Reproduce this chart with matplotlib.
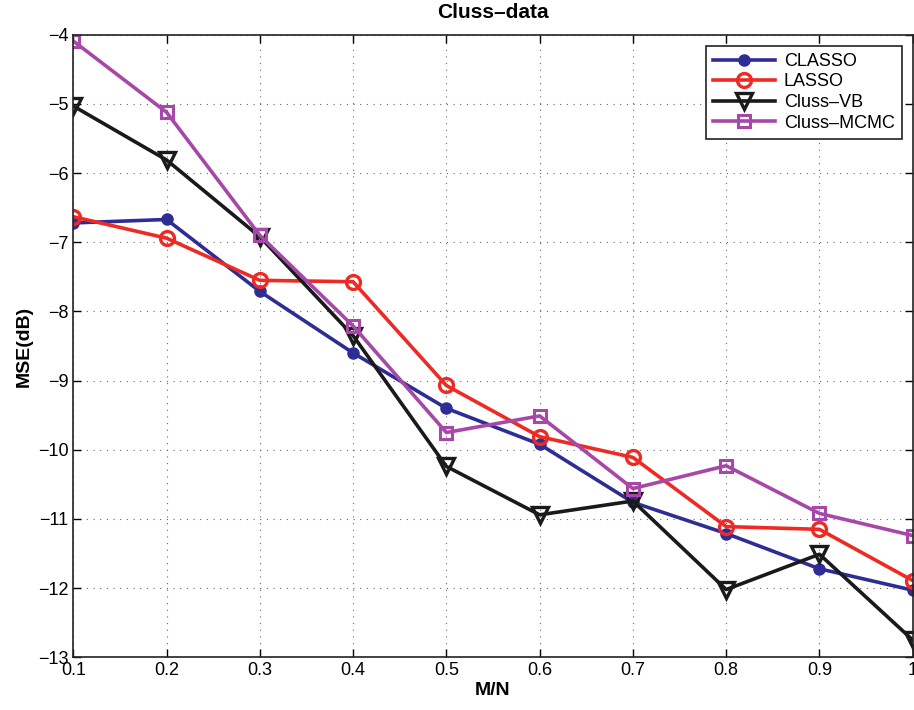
import matplotlib
matplotlib.use("Agg")
import matplotlib.pyplot as plt

plt.rcParams['font.family'] = ['Liberation Sans', 'DejaVu Sans']

mn = [0.1, 0.2, 0.3, 0.4, 0.5, 0.6, 0.7, 0.8, 0.9, 1.0]
classo = [-6.72, -6.67, -7.71, -8.60, -9.40, -9.92, -10.76, -11.21, -11.72, -12.03]
lasso = [-6.63, -6.94, -7.55, -7.57, -9.07, -9.81, -10.11, -11.11, -11.15, -11.89]
cluss_vb = [-5.03, -5.81, -6.92, -8.35, -10.24, -10.94, -10.74, -12.02, -11.51, -12.75]
cluss_mcmc = [-4.09, -5.12, -6.90, -8.21, -9.75, -9.51, -10.56, -10.23, -10.92, -11.24]

xticks = [0.1, 0.2, 0.3, 0.4, 0.5, 0.6, 0.7, 0.8, 0.9, 1.0]
xticklabels = ['0.1', '0.2', '0.3', '0.4', '0.5', '0.6', '0.7', '0.8', '0.9', '1']
yticks = [-13, -12, -11, -10, -9, -8, -7, -6, -5, -4]

fig = plt.figure(figsize=(9.14, 7.10), dpi=100)
ax = fig.add_axes([0.0802, 0.0742, 0.9184, 0.8768])

lw = 2.6
ax.plot(mn, classo, color='#2e2d96', lw=lw, marker='o', ms=8, mfc='#2e2d96', mec='#2e2d96', label='CLASSO')
ax.plot(mn, lasso, color='#ee2a24', lw=lw, marker='o', ms=10, mfc='none', mec='#ee2a24', mew=2.4, label='LASSO')
ax.plot(mn, cluss_vb, color='#1a1a1a', lw=lw, marker='v', ms=11, mfc='none', mec='#1a1a1a', mew=2.4, label='Cluss\u2013VB')
ax.plot(mn, cluss_mcmc, color='#a748a8', lw=lw, marker='s', ms=8, mfc='none', mec='#a748a8', mew=2.2, label='Cluss\u2013MCMC')

ax.set_xlim(0.1, 1.0)
ax.set_ylim(-13, -4)
ax.set_xticks(xticks)
ax.set_xticklabels(xticklabels)
ax.set_yticks(yticks)
ax.grid(True, linestyle=(0, (1, 5)), color='#666666', lw=0.8)
ax.tick_params(direction='in', top=True, right=True, labelsize=13, length=6, width=1)
for s in ax.spines.values():
    s.set_linewidth(1.2)
    s.set_color('#222222')

ax.set_title('Cluss\u2013data', fontsize=15, fontweight='bold', pad=12)
ax.set_xlabel('M/N', fontsize=14, fontweight='bold', labelpad=2)
ax.set_ylabel('MSE(dB)', fontsize=14, fontweight='bold', labelpad=4)

leg = ax.legend(loc='upper right', fontsize=13, frameon=True, fancybox=False,
                edgecolor='#222222', framealpha=1, borderaxespad=0.6,
                handlelength=3.4, labelspacing=0.2, borderpad=0.4, handletextpad=0.5)
leg.get_frame().set_linewidth(1.2)

fig.savefig('out.png', dpi=100)
